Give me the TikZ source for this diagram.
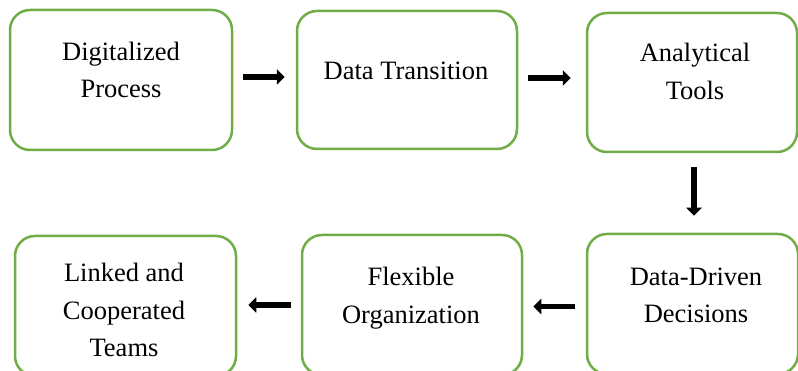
\documentclass[tikz,border=0pt]{standalone}
\usepackage{fontspec}
\setmainfont{Liberation Serif}
\usetikzlibrary{arrows.meta,calc}
\definecolor{boxgreen}{RGB}{112,173,71}
\tikzset{
  stagebox/.style={draw=boxgreen, line width=2.5pt, rounded corners=20pt, fill=white},
  stagetext/.style={align=center, inner sep=0pt, font=\fontsize{26.5}{37.5}\selectfont},
  flowarrow/.style={line width=5.5pt, -{Triangle[length=8pt,width=15pt]}}
}
\begin{document}
\begin{tikzpicture}[x=1pt,y=-1pt]
\useasboundingbox (0,0) rectangle (798,371);

% process stages
\node[stagebox, minimum width=222pt, minimum height=140pt] (b1) at (121,80) {};
\node[stagebox, minimum width=220pt, minimum height=138pt] (b2) at (407,80) {};
\node[stagebox, minimum width=210pt, minimum height=139pt] (b3) at (692,82.5) {};
\node[stagebox, minimum width=211pt, minimum height=140pt] (b6) at (692.5,304) {};
\node[stagebox, minimum width=220pt, minimum height=140pt] (b5) at (412,305) {};
\node[stagebox, minimum width=221pt, minimum height=140pt] (b4) at (125.5,306) {};

% stage labels
\node[stagetext] (t1) at (121,70) {Digitalized\\Process};
\node[stagetext] (t2) at (406,71) {Data Transition};
\node[stagetext] (t3) at (695,71.5) {Analytical\\Tools};
\node[stagetext] (t6) at (696,295.5) {Data-Driven\\Decisions};
\node[stagetext] (t5) at (411,298) {Flexible\\Organization};
\node[stagetext] (t4) at (124,310) {Linked and\\Cooperated\\Teams};

% flow
\draw[flowarrow, shorten <=10pt, shorten >=11pt] ($(b1.east)+(0,-3)$) -- ($(b2.west)+(0,-3)$);
\draw[flowarrow, shorten <=10pt, shorten >=15pt] ($(b2.east)+(0,-2)$) -- ($(b2.east -| b3.west)+(0,-2)$);
\draw[flowarrow, shorten <=14pt, shorten >=17pt] ($(b3.south)+(2,0)$) -- ($(b3.south |- b6.north)+(2,0)$);
\draw[flowarrow, shorten <=11pt, shorten >=10pt] ($(b6.west)+(0,2.5)$) -- ($(b6.west -| b5.east)+(0,2.5)$);
\draw[flowarrow, shorten <=10pt, shorten >=11pt] ($(b5.west)+(0,0)$) -- ($(b5.west -| b4.east)+(0,0)$);
\end{tikzpicture}
\end{document}
